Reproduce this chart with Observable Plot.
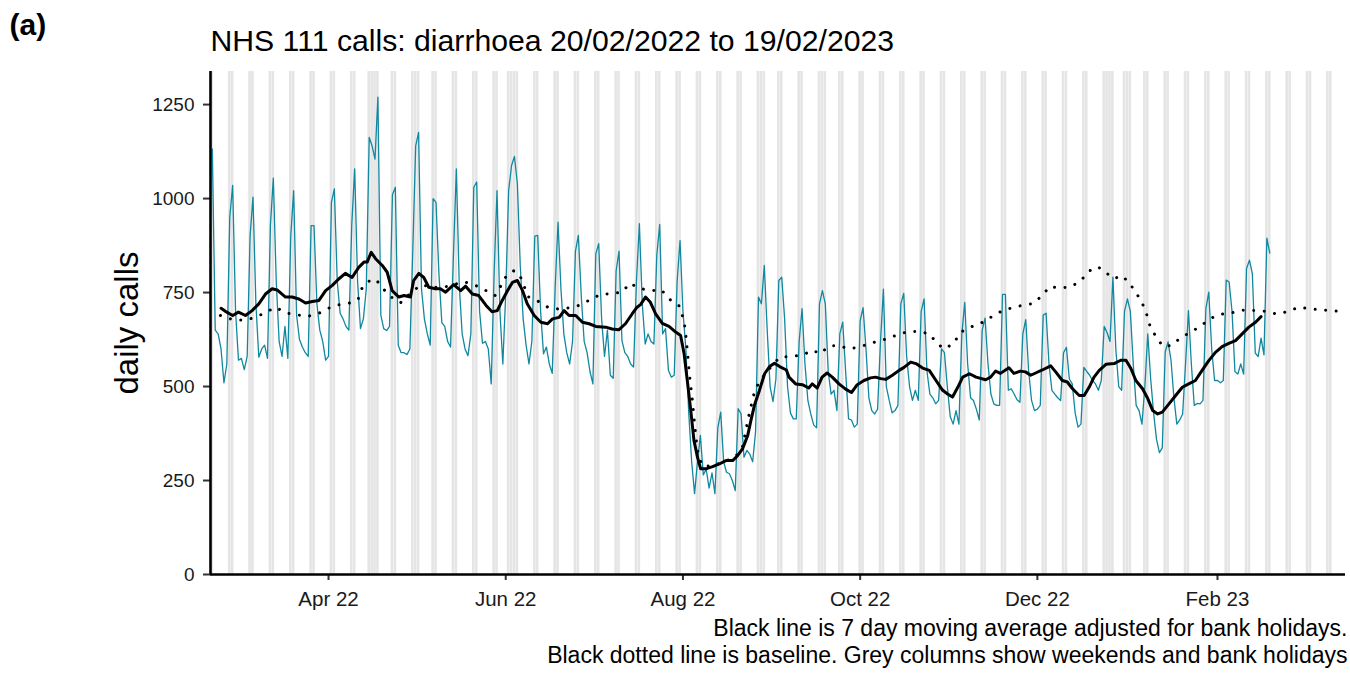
<!DOCTYPE html>
<html>
<head>
<meta charset="utf-8">
<script src="https://cdn.jsdelivr.net/npm/d3@7"></script>
<script src="https://cdn.jsdelivr.net/npm/@observablehq/plot@0.6"></script>
<style>
  html, body { margin: 0; padding: 0; background: #fff; }
  #chart svg { display: block; }
</style>
</head>
<body>
<div id="chart"></div>
<script>
// ---------------- data ----------------
const startDate = "2022-02-20";           // first day of the daily series (Sunday)
// daily NHS 111 diarrhoea calls, 20/02/2022 .. 19/02/2023 (rows are Sun..Sat)
const dailyCalls = [
  1132, 650, 640, 600, 510, 560, 950,
  1035, 700, 570, 575, 545, 580, 900,
  1004, 720, 578, 600, 610, 575, 930,
  1054, 780, 620, 580, 660, 575, 900,
  1021, 690, 625, 605, 590, 580, 928,
  928, 720, 650, 620, 570, 580, 990,
  1026, 780, 695, 680, 660, 650, 930,
  1079, 780, 654, 680, 760, 1163, 1140,
  1105, 1270, 690, 654, 649, 660, 1010,
  1030, 610, 590, 590, 585, 600, 860,
  1140, 1176, 760, 680, 640, 610, 1000,
  990, 800, 670, 660, 620, 605, 850,
  1079, 770, 640, 600, 582, 640, 1030,
  1044, 700, 615, 620, 600, 507, 800,
  1021, 700, 560, 747, 1021, 1088, 1112,
  1040, 820, 680, 610, 560, 620, 900,
  902, 700, 587, 605, 560, 535, 760,
  937, 760, 640, 590, 560, 620, 860,
  902, 740, 620, 590, 540, 507, 853,
  880, 680, 580, 650, 530, 522, 808,
  860, 622, 590, 580, 560, 552, 780,
  933, 720, 613, 640, 620, 613, 850,
  931, 640, 654, 543, 525, 530, 780,
  888, 700, 600, 430, 300, 215, 300,
  370, 265, 280, 230, 270, 215, 390,
  432, 300, 272, 268, 250, 223, 441,
  428, 312, 330, 320, 300, 380, 738,
  720, 822, 650, 500, 460, 520, 782,
  791, 680, 500, 430, 414, 414, 620,
  707, 560, 463, 427, 398, 390, 720,
  755, 720, 540, 480, 490, 436, 640,
  671, 540, 414, 411, 392, 400, 675,
  710, 600, 470, 436, 427, 440, 620,
  759, 500, 463, 430, 436, 450, 720,
  748, 580, 500, 463, 490, 463, 700,
  733, 540, 480, 470, 454, 463, 600,
  590, 500, 420, 400, 436, 400, 640,
  724, 560, 470, 463, 440, 411, 650,
  682, 560, 480, 454, 450, 450, 745,
  745, 490, 494, 480, 465, 458, 640,
  678, 540, 463, 436, 440, 450, 690,
  695, 560, 490, 480, 470, 463, 590,
  604, 520, 507, 430, 392, 400, 551,
  540, 530, 516, 507, 490, 516, 660,
  643, 620, 791, 600, 500, 490, 700,
  733, 700, 560, 450, 436, 400, 500,
  640, 520, 430, 360, 324, 337, 592,
  619, 570, 470, 400, 411, 427, 560,
  702, 560, 450, 455, 454, 463, 707,
  751, 600, 516, 516, 510, 516, 783,
  778, 700, 540, 533, 560, 533, 814,
  836, 800, 589, 580, 629, 584, 895,
  855
];

// 7 day moving average (days after startDate, value)
const maDay = [3, 4.5, 7, 9, 11.4, 13.7, 16, 18.3, 20.6, 22.3, 25.2, 27.5, 29.8, 32.1, 34.4, 36.7, 39, 41.3, 43.5, 45.8, 48.1, 50.4, 52.2, 53.3, 54.7, 56.2, 58.5, 60.2, 61.9, 64.2, 66, 68.2, 69.3, 71.1, 72.8, 74.5, 76.8, 78.5, 80.3, 83.1, 85.5, 87.2, 89.5, 91.7, 94.3, 96.3, 98.1, 99.8, 101.6, 103.3, 105, 106.8, 108.4, 110.8, 113.1, 115.4, 117.1, 119.4, 121.1, 122.8, 125.1, 127.4, 129.7, 132, 135.4, 137.6, 139.9, 142.2, 144.5, 146.2, 147.4, 149.1, 150.8, 152.6, 154.9, 157.2, 159.5, 161.2, 162.4, 163.5, 164.7, 165.8, 167, 168.1, 169.9, 172.2, 174.5, 176.8, 179.1, 180.8, 182.5, 184.3, 185.4, 186.6, 188.3, 190.1, 191.8, 193.5, 195.3, 197.6, 198.5, 200.8, 203.1, 205.3, 206.5, 208.2, 209.9, 211.6, 213.4, 215.7, 218, 220, 222, 224.3, 226.6, 228.3, 230.1, 231.8, 234.1, 236.4, 238.1, 240.4, 242.2, 244.5, 246.8, 249.1, 251.4, 253.1, 254.8, 256.6, 258.3, 260.6, 262.9, 266.2, 267.9, 269.6, 271.3, 274.2, 275.9, 278.2, 279.9, 281.7, 283.4, 285.7, 288.6, 290.3, 292.6, 294.3, 296.1, 298.4, 300.1, 301.8, 303.5, 305.3, 307.6, 310.4, 312.7, 314.5, 316.2, 317.9, 320.2, 322, 323.7, 325.4, 327, 329.3, 331.6, 333.9, 336.1, 338.4, 340.7, 343, 345.3, 347.6, 349.9, 352.2, 354.5, 356.8, 359.1, 361];
const maCalls = [708, 700, 689, 698, 689, 702, 720, 746, 760, 757, 738, 738, 733, 722, 726, 729, 755, 769, 786, 801, 790, 817, 831, 831, 857, 840, 822, 804, 755, 738, 742, 738, 782, 801, 790, 764, 760, 760, 751, 771, 755, 767, 746, 742, 715, 699, 702, 729, 755, 777, 782, 755, 720, 689, 671, 667, 680, 684, 702, 689, 689, 671, 667, 660, 658, 653, 651, 667, 693, 711, 718, 738, 724, 693, 668, 660, 645, 636, 587, 516, 436, 356, 312, 281, 281, 287, 294, 303, 303, 316, 334, 370, 410, 450, 489, 534, 553, 562, 553, 544, 525, 507, 505, 496, 507, 496, 525, 536, 525, 507, 493, 484, 505, 516, 523, 525, 521, 519, 530, 543, 551, 565, 561, 549, 543, 516, 490, 480, 472, 498, 525, 534, 525, 518, 525, 541, 535, 550, 535, 541, 539, 530, 536, 544, 555, 539, 516, 512, 494, 476, 476, 498, 525, 543, 559, 561, 570, 570, 548, 516, 494, 468, 436, 427, 432, 454, 476, 498, 507, 516, 543, 569, 591, 606, 615, 622, 640, 658, 671, 686];

// baseline (days after startDate, value) - runs past the end of the data
const baseDay = [2.8, 7.4, 11.2, 14.6, 18.3, 21.8, 25.2, 29.2, 32.6, 36.7, 39.9, 43.3, 47.2, 50.2, 51.4, 53.5, 56.2, 58.8, 61.6, 64.8, 68.5, 72, 75.5, 79.7, 83.1, 86.6, 90.3, 93.8, 97.3, 98.9, 100.7, 103.6, 105.7, 108.7, 112.1, 115.5, 119.3, 122.4, 125.9, 129.6, 133.6, 137.1, 141.1, 143.7, 146.8, 150.6, 154.6, 157.4, 160.6, 162, 162.7, 163.5, 164.2, 165.2, 166.1, 167, 168.5, 172, 176, 180, 182.5, 184.8, 186.6, 188.3, 191.5, 195.3, 199.6, 203.4, 206.8, 209, 212.5, 215.4, 219.4, 223.4, 227.1, 230.9, 235, 238.9, 242.9, 246.9, 249.4, 251.9, 255.3, 257.3, 260.5, 264, 267.5, 270.7, 275, 278.8, 282.6, 285.7, 288.2, 291.8, 295.8, 299.1, 302, 304.8, 307.2, 310.4, 313.2, 315.8, 318.1, 320.2, 321.7, 322.8, 324.8, 327.2, 330.2, 333.3, 336.9, 340.4, 343.3, 346.8, 350.8, 354.7, 358.8, 362.6, 366.3, 370.1, 373.9, 377.6, 381.6, 385.3, 389.1, 390];
const baseCalls = [689, 677, 677, 683, 697, 711, 696, 691, 686, 695, 708, 717, 722, 732, 760, 779, 786, 760, 738, 723, 751, 771, 764, 764, 771, 779, 770, 757, 742, 762, 789, 808, 799, 739, 727, 711, 706, 709, 715, 729, 745, 747, 751, 775, 762, 755, 757, 732, 715, 684, 658, 596, 534, 467, 392, 330, 290, 288, 300, 312, 340, 427, 485, 513, 545, 578, 580, 585, 597, 587, 608, 609, 600, 607, 616, 624, 635, 645, 647, 640, 615, 600, 615, 643, 657, 666, 682, 697, 709, 716, 721, 742, 766, 762, 766, 783, 808, 819, 805, 787, 795, 774, 748, 720, 690, 660, 633, 607, 609, 630, 645, 662, 680, 692, 696, 703, 702, 700, 693, 699, 711, 707, 704, 702, 699, 698];

const bankHolidays = ["2022-04-15", "2022-04-18", "2022-05-02", "2022-06-02", "2022-06-03",
                      "2022-08-29", "2022-09-19", "2022-12-26", "2022-12-27", "2023-01-02"];
const yTicks = [0, 250, 500, 750, 1000, 1250];
const xTickDates = ["2022-04-01", "2022-06-01", "2022-08-01", "2022-10-01", "2022-12-01", "2023-02-01"];
const xDomain = ["2022-02-19T09:00Z", "2023-03-17T01:30Z"];
const panelLabel = "(a)";
const titleText = "NHS 111 calls: diarrhoea 20/02/2022 to 19/02/2023";
const yLabel = "daily calls";
const captionLines = ["Black line is 7 day moving average adjusted for bank holidays.",
                      "Black dotted line is baseline. Grey columns show weekends and bank holidays"];

// ---------------- build tables ----------------
const DAY = 864e5;
const t0 = new Date(startDate + "T00:00:00Z");
const dayToDate = d => new Date(+t0 + d * DAY);
const daily = dailyCalls.map((v, i) => ({date: dayToDate(i), calls: v}));
const ma = maDay.map((d, i) => ({date: dayToDate(d), calls: maCalls[i]}));
const base = baseDay.map((d, i) => ({date: dayToDate(d), calls: baseCalls[i]}));

const dom = xDomain.map(s => new Date(s));
const bh = new Set(bankHolidays);
const offDays = [];
for (let t = +t0 - DAY; t <= +dom[1] + DAY; t += DAY) {
  const dt = new Date(t);
  const wd = dt.getUTCDay();
  if (wd === 0 || wd === 6 || bh.has(dt.toISOString().slice(0, 10))) offDays.push(dt);
}

const font = "'Liberation Sans', Arial, Helvetica, sans-serif";

const chart = Plot.plot({
  width: 1350,
  height: 674,
  marginLeft: 210,
  marginRight: 5,
  marginTop: 71,
  marginBottom: 100,
  style: {fontFamily: font, background: "#fff", color: "#000"},
  x: {type: "utc", domain: dom},
  y: {domain: [0, 1338]},
  marks: [
    Plot.rect(offDays, {
      x1: d => new Date(+d - 0.45 * DAY),
      x2: d => new Date(+d + 0.45 * DAY),
      fill: "#e5e5e5",
      clip: true
    }),
    Plot.lineY(daily, {x: "date", y: "calls", stroke: "#11889f", strokeWidth: 1.3}),
    Plot.lineY(base, {x: "date", y: "calls", stroke: "#000", strokeWidth: 3,
                      strokeDasharray: "0.01,10.5", strokeLinecap: "round", clip: true}),
    Plot.lineY(ma, {x: "date", y: "calls", stroke: "#000", strokeWidth: 3}),
    Plot.axisY({ticks: yTicks, tickFormat: d => String(d), tickSize: 7, tickPadding: 9,
                fontSize: 19, label: null, stroke: "#333", strokeWidth: 2, fill: "#1a1a1a"}),
    Plot.axisX({ticks: xTickDates.map(s => new Date(s + "T00:00:00Z")),
                tickFormat: d3.utcFormat("%b %y"), tickSize: 6, tickPadding: 11,
                fontSize: 20.5, label: null, stroke: "#333", strokeWidth: 2, fill: "#1a1a1a"}),
    Plot.ruleX([dom[0]], {stroke: "#000", strokeWidth: 2.6}),
    Plot.ruleY([0], {stroke: "#000", strokeWidth: 2.6}),
    Plot.text([panelLabel], {frameAnchor: "top-left", dx: -201, dy: -37, lineAnchor: "bottom",
                             textAnchor: "start", fontSize: 30, fontWeight: "bold", fill: "#000"}),
    Plot.text([titleText], {frameAnchor: "top-left", dx: 0, dy: -21, lineAnchor: "bottom",
                            textAnchor: "start", fontSize: 30.2, fill: "#000"}),
    Plot.text([yLabel], {frameAnchor: "left", dx: -73, rotate: -90, lineAnchor: "bottom",
                         textAnchor: "middle", fontSize: 33, fill: "#000"}),
    Plot.text([captionLines[0]], {frameAnchor: "bottom-right", dx: 2, dy: 61, lineAnchor: "bottom",
                                  textAnchor: "end", fontSize: 23, fill: "#000"}),
    Plot.text([captionLines[1]], {frameAnchor: "bottom-right", dx: 2, dy: 88, lineAnchor: "bottom",
                                  textAnchor: "end", fontSize: 23, fill: "#000"})
  ]
});
document.getElementById("chart").appendChild(chart);
</script>
</body>
</html>
